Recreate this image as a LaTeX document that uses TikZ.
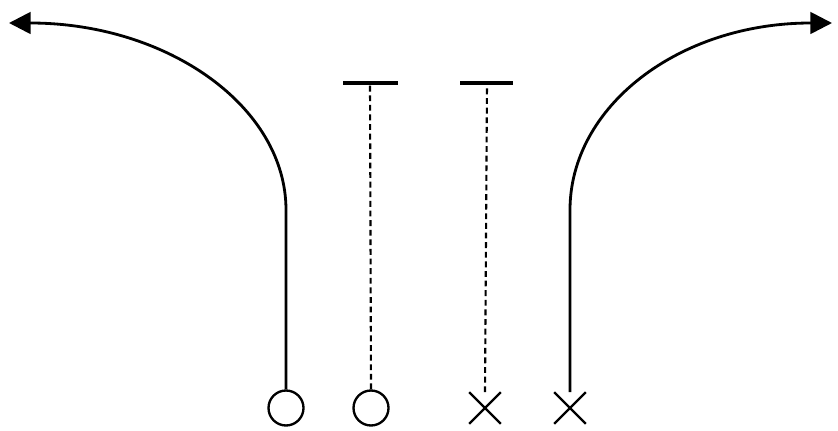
\documentclass[tikz,border=0pt]{standalone}
\usetikzlibrary{positioning,arrows.meta,shapes.misc}

\begin{document}
\begin{tikzpicture}[x=0.03cm,y=-0.03cm,
          o/.style={circle,draw,line width=2pt,inner sep=0pt,minimum size=1.05cm},
          xx/.style={cross out,draw,line width=2pt,inner sep=0pt,minimum size=0.88cm},
          route/.style={line width=2.4pt,-{Triangle[length=6.5mm,width=6.5mm]}},
          block/.style={dashed,line width=1.8pt,dash pattern=on 5pt off 3.2pt},
          tbar/.style={line width=3.6pt},
        ]
        \useasboundingbox (0,0) rectangle (838,431);
        % players
        \node[o]  (o1) at (286,408) {};
        \node[o]  (o2) at (371,408) {};
        \node[xx] (x1) at (485,408) {};
        \node[xx] (x2) at (570,408) {};
        % ends of the routes
        \coordinate (l) at (9,23);
        \coordinate (r) at (832,23);
        \coordinate (t1) at (370,83);
        \coordinate (t2) at (487,83);
        % outside routes
        \draw[route] (o1.north) -- (286,210)
          .. controls (286,107) and (168,23) .. (l);
        \draw[route] (x2.north) -- (570,210)
          .. controls (570,107) and (678,23) .. (r);
        % blocks
        \draw[block] (o2.north) -- (t1);
        \draw[block] (x1.north) -- (t2);
        \draw[tbar] (t1) ++(-27,0) -- ++(55,0);
        \draw[tbar] (t2) ++(-27,0) -- ++(53,0);
      \end{tikzpicture}
\end{document}
